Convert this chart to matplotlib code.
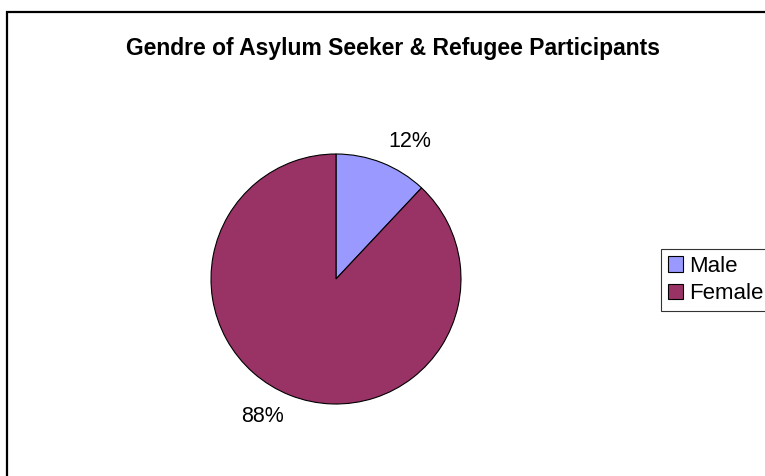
import numpy as np
import matplotlib.pyplot as plt
from matplotlib.patches import Rectangle

labels = ['Male', 'Female']
shares = [12, 88]
colors = ['#9999FF', '#993366']

W, H = 765, 476
fig = plt.figure(figsize=(W / 100, H / 100), dpi=100)
plt.rcParams['font.family'] = ['Liberation Sans', 'DejaVu Sans']

# chart border (cut off at right and bottom like the original)
fig.patches.append(Rectangle((7 / W, -0.1), 1.1, (H - 12) / H + 0.1,
                             transform=fig.transFigure, fill=False,
                             edgecolor='black', linewidth=1.6))

fig.text(393 / W, 1 - 49 / H, 'Gendre of Asylum Seeker & Refugee Participants',
         ha='center', va='center', fontsize=16.5, fontweight='bold')

cx, cy, r = 336, 279, 125
ax = fig.add_axes([(cx - r) / W, (H - cy - r) / H, 2 * r / W, 2 * r / H])
wedges, texts, autotexts = ax.pie(
    shares, colors=colors, startangle=90, counterclock=False,
    autopct='%d%%', pctdistance=1.25,
    wedgeprops=dict(edgecolor='black', linewidth=0.8))
# excel puts the labels a little clockwise of the wedge middle
rot = np.deg2rad(-6.5)
for t in autotexts:
    x, y = t.get_position()
    t.set_position((x * np.cos(rot) - y * np.sin(rot),
                    x * np.sin(rot) + y * np.cos(rot)))
    t.set_fontsize(15.5)
ax.set_xlim(-1, 1)
ax.set_ylim(-1, 1)
ax.set_aspect('equal')

leg = fig.legend(wedges, labels, loc='upper left',
                 bbox_to_anchor=(661 / W, 1 - 249 / H),
                 fontsize=16, frameon=True, fancybox=False,
                 handlelength=0.7, handleheight=0.7, handletextpad=0.25,
                 borderpad=0.3, labelspacing=0.3, borderaxespad=0)
leg.get_frame().set_edgecolor('black')
leg.get_frame().set_linewidth(0.8)

fig.savefig('out.png', dpi=100)
